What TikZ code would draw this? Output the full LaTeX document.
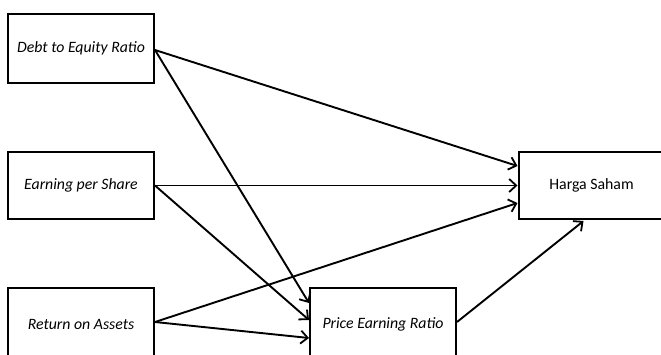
\documentclass[tikz,border=0pt]{standalone}
\usepackage{fontspec}
\setmainfont{Carlito}
\usetikzlibrary{arrows.meta}
\begin{document}
\begin{tikzpicture}[x=1pt,y=-1pt,
  box/.style={draw,line width=2pt,minimum width=146pt,inner sep=0pt,font=\fontsize{15.8}{18}\selectfont\itshape},
  arr/.style={line width=1.9pt,-{Straight Barb[length=7pt,width=13pt,line width=1.8pt]}}]
\useasboundingbox (0,0) rectangle (661,354);
\clip (0,0) rectangle (661,354);
\node[box,minimum height=69pt] (der) at (81,48.5) {Debt to Equity Ratio};
\node[box,minimum height=67pt] (eps) at (81,185.5) {Earning per Share};
\node[box,minimum height=72pt] (roa) at (81,324) {Return on Assets};
\node[box,minimum height=67pt,font=\fontsize{15.8}{18}\selectfont] (hs) at (591.5,185.5) {Harga Saham};
\node[box,minimum height=72pt] (per) at (383,324) {Price Earning Ratio};
\draw[arr] ([yshift=-1.5pt]der.east) -- ([yshift=19.5pt]hs.west);
\draw[arr] ([yshift=-1.5pt]der.east) -- ([yshift=21pt]per.west);
\draw[arr] (eps.east) -- (hs.west);
\draw[arr] (eps.east) -- ([yshift=4pt]per.west);
\draw[arr] ([yshift=2pt]roa.east) -- ([yshift=-17.5pt]hs.west);
\draw[arr] ([yshift=2pt]roa.east) -- ([yshift=-14pt]per.west);
\draw[arr] ([yshift=2pt]per.east) -- ([xshift=-8pt,yshift=-1pt]hs.south);
\end{tikzpicture}
\end{document}
